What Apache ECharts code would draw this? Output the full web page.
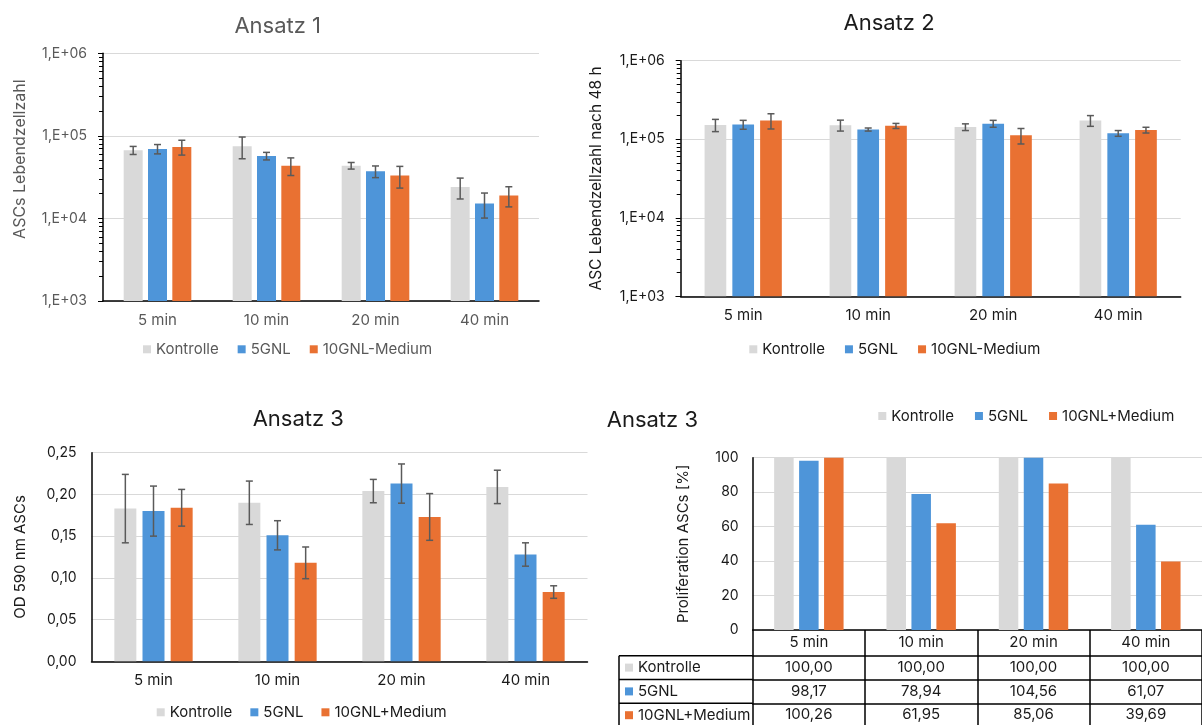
<!DOCTYPE html>
<html>
<head>
<meta charset="utf-8">
<script src="https://cdn.jsdelivr.net/npm/echarts@6/dist/echarts.min.js"></script>
<style>
  html, body { margin: 0; padding: 0; background: #fff; }
  #chart { width: 1202px; height: 725px; }
</style>
</head>
<body>
<div id="chart"></div>
<script>
const categories = ['5 min', '10 min', '20 min', '40 min']
const namesA = ['Kontrolle', '5GNL', '10GNL-Medium']
const namesB = ['Kontrolle', '5GNL', '10GNL+Medium']
const colors = ['#D9D9D9', '#4E95D9', '#E97132']

// Ansatz 1: ASCs Lebendzellzahl (log)
const a1Kontrolle = [67000, 74800, 43600, 24000]
const a1Gnl5 = [69500, 57100, 37200, 15200]
const a1Gnl10 = [73500, 43600, 33000, 19000]
const a1KontrolleErr = [7500, 22000, 4000, 6800]
const a1Gnl5Err = [9000, 6000, 6000, 5100]
const a1Gnl10Err = [15000, 10500, 9700, 5200]

// Ansatz 2: ASC Lebendzellzahl nach 48 h (log)
const a2Kontrolle = [152000, 151000, 143000, 173000]
const a2Gnl5 = [154000, 133000, 158000, 119000]
const a2Gnl10 = [173000, 148000, 112000, 131000]
const a2KontrolleErr = [27000, 24000, 14000, 27000]
const a2Gnl5Err = [20000, 6000, 16000, 10000]
const a2Gnl10Err = [38000, 11000, 25000, 11000]

// Ansatz 3: OD 590 nm
const a3Kontrolle = [0.183, 0.190, 0.204, 0.209]
const a3Gnl5 = [0.180, 0.151, 0.213, 0.128]
const a3Gnl10 = [0.184, 0.118, 0.173, 0.083]
const a3KontrolleErr = [0.041, 0.026, 0.014, 0.020]
const a3Gnl5Err = [0.030, 0.0175, 0.0235, 0.014]
const a3Gnl10Err = [0.022, 0.019, 0.028, 0.0075]

// Ansatz 3: Proliferation [%]
const prolKontrolle = [100.00, 100.00, 100.00, 100.00]
const prolGnl5 = [98.17, 78.94, 104.56, 61.07]
const prolGnl10 = [100.26, 61.95, 85.06, 39.69]

const logTicks = [1000, 1000000]
const odTicks = [0, 0.25, 0.05]
const prolTicks = [0, 100, 20]

const FONT = 'Inter'
const GRAY = '#595959'
const DARK = '#1a1a1a'
const GRID_LINE = '#D9D9D9'
const TXT = 15

const fmtComma = (v, d) => v.toFixed(d).replace('.', ',')
const fmtExp = v => '1,E+0' + Math.round(Math.log10(v))

function barSeries(gi, names, rows, barWidth) {
  return rows.map((vals, i) => ({
    type: 'bar',
    name: names[i],
    xAxisIndex: gi,
    yAxisIndex: gi,
    data: vals,
    barWidth,
    barGap: '28%',
    itemStyle: { color: colors[i] },
    emphasis: { disabled: true },
  }))
}

function errorSeries(gi, rows, errs, barWidth) {
  const data = []
  rows.forEach((vals, s) => vals.forEach((v, c) => data.push([c, v, errs[s][c], s])))
  const step = barWidth * 1.28
  return {
    type: 'custom',
    xAxisIndex: gi,
    yAxisIndex: gi,
    z: 5,
    data,
    renderItem(params, api) {
      const c = api.value(0)
      const v = api.value(1)
      const e = api.value(2)
      const s = api.value(3)
      const hi = api.coord([c, v + e])
      const lo = api.coord([c, v - e])
      const x = hi[0] + (s - 1) * step
      const style = { stroke: '#5a5a5a', lineWidth: 1.5 }
      return {
        type: 'group',
        children: [
          { type: 'line', shape: { x1: x, y1: hi[1], x2: x, y2: lo[1] }, style },
          { type: 'line', shape: { x1: x - 3.5, y1: hi[1], x2: x + 3.5, y2: hi[1] }, style },
          { type: 'line', shape: { x1: x - 3.5, y1: lo[1], x2: x + 3.5, y2: lo[1] }, style },
        ],
      }
    },
  }
}

function catAxis(gi, color, extra) {
  return Object.assign({
    type: 'category',
    gridIndex: gi,
    data: categories,
    axisLine: { lineStyle: { color: '#000', width: 1.5 } },
    axisTick: { show: false },
    axisLabel: { color, fontSize: TXT, fontFamily: FONT, margin: 12, interval: 0 },
  }, extra || {})
}

function logAxis(gi, color, name, nameGap, nameSize, namePad) {
  return {
    type: 'log',
    logBase: 10,
    gridIndex: gi,
    min: logTicks[0],
    max: logTicks[1],
    name,
    nameLocation: 'middle',
    nameGap,
    nameTextStyle: { color, fontSize: nameSize, fontFamily: FONT, padding: namePad },
    axisLine: { show: true, lineStyle: { color: '#000', width: 1.5 } },
    axisTick: { show: true, length: 5, lineStyle: { color: '#000' } },
    minorTick: { show: true, splitNumber: 9, length: 4, lineStyle: { color: '#000' } },
    splitLine: { lineStyle: { color: GRID_LINE, width: 1.2 } },
    axisLabel: { color, fontSize: 14, fontFamily: FONT, margin: 16, formatter: fmtExp },
  }
}

function legend(names, left, top, gap, color) {
  return {
    data: names,
    left,
    top,
    padding: 0,
    icon: 'rect',
    itemWidth: 8,
    itemHeight: 8,
    itemGap: gap,
    selectedMode: false,
    textStyle: { color, fontSize: TXT, fontFamily: FONT },
  }
}

function title(text, left, top, align, color) {
  return {
    text,
    left,
    top,
    textAlign: align,
    padding: 0,
    textStyle: { color, fontSize: 22, fontWeight: 'normal', fontFamily: FONT, lineHeight: 22 },
  }
}

const grids = [
  { left: 103, top: 53.3, width: 436, height: 247.7 },
  { left: 680.7, top: 60.7, width: 500, height: 235.6 },
  { left: 91.5, top: 452.7, width: 496, height: 208.6 },
  { left: 752.7, top: 457.7, width: 450.6, height: 172.3 },
]

// table under the proliferation chart
const tableRows = [prolKontrolle, prolGnl5, prolGnl10]
const headerH = 25.7
const rowH = 23.8
const tableTop = grids[3].top + grids[3].height
const tableLeft = 619

const rowAxes = tableRows.map((vals, r) => ({
  type: 'category',
  gridIndex: 3,
  position: 'bottom',
  offset: headerH + r * rowH,
  data: categories,
  axisLine: { lineStyle: { color: '#000', width: 1.5 } },
  axisTick: { show: false },
  axisLabel: {
    color: DARK, fontSize: TXT, fontFamily: FONT, margin: 4, interval: 0,
    formatter: (v, i) => fmtComma(vals[i], 2),
  },
}))

const tableGraphic = [
  { type: 'line', shape: { x1: tableLeft, y1: tableTop + headerH, x2: tableLeft, y2: 740 },
    style: { stroke: '#000', lineWidth: 1.5 } },
]
namesB.forEach((n, r) => {
  const y = tableTop + headerH + r * rowH
  tableGraphic.push(
    { type: 'line', shape: { x1: tableLeft, y1: y, x2: grids[3].left, y2: y },
      style: { stroke: '#000', lineWidth: 1.5 } },
    { type: 'rect', shape: { x: tableLeft + 6, y: y + rowH / 2 - 4, width: 8, height: 8 },
      style: { fill: colors[r] } },
    { type: 'text', x: tableLeft + 19, y: y + rowH / 2,
      style: { text: n, fill: DARK, font: TXT + 'px ' + FONT, verticalAlign: 'middle' } },
  )
})

const chart = echarts.init(document.getElementById('chart'))
chart.setOption({
  animation: false,
  backgroundColor: '#fff',
  title: [
    title('Ansatz 1', 277.7, 15.7, 'center', GRAY),
    title('Ansatz 2', 889, 12.3, 'center', DARK),
    title('Ansatz 3', 298.3, 408.3, 'center', DARK),
    title('Ansatz 3', 606.7, 409.7, 'left', DARK),
  ],
  legend: [
    legend(namesA, 143, 341.8, 19, GRAY),
    legend(namesA, 749.3, 341.8, 20, DARK),
    legend(namesB, 156.7, 704.8, 18, DARK),
    legend(namesB, 878.3, 408.5, 21, DARK),
  ],
  grid: grids,
  xAxis: [
    catAxis(0, GRAY),
    catAxis(1, DARK),
    catAxis(2, DARK),
    catAxis(3, DARK, {
      axisTick: { show: true, interval: 0, length: 110, lineStyle: { color: '#000', width: 1.5 } },
      axisLabel: { color: DARK, fontSize: TXT, fontFamily: FONT, margin: 5, interval: 0 },
    }),
    ...rowAxes,
  ],
  yAxis: [
    logAxis(0, GRAY, 'ASCs Lebendzellzahl', 75, 16, [0, 0, 0, 36]),
    logAxis(1, DARK, 'ASC Lebendzellzahl nach 48 h', 76, 15.5, 0),
    {
      type: 'value',
      gridIndex: 2,
      min: odTicks[0],
      max: odTicks[1],
      interval: odTicks[2],
      name: 'OD 590 nm ASCs',
      nameLocation: 'middle',
      nameGap: 64,
      nameTextStyle: { color: DARK, fontSize: 15, fontFamily: FONT },
      axisLine: { show: true, lineStyle: { color: '#000', width: 1.5 } },
      axisTick: { show: false },
      splitLine: { lineStyle: { color: GRID_LINE, width: 1.2 } },
      axisLabel: { color: DARK, fontSize: 14, fontFamily: FONT, margin: 15, formatter: v => fmtComma(v, 2) },
    },
    {
      type: 'value',
      gridIndex: 3,
      min: prolTicks[0],
      max: prolTicks[1],
      interval: prolTicks[2],
      name: 'Proliferation ASCs [%]',
      nameLocation: 'middle',
      nameGap: 61.5,
      nameTextStyle: { color: DARK, fontSize: 15, fontFamily: FONT },
      axisLine: { show: true, lineStyle: { color: '#000', width: 1.5 } },
      axisTick: { show: false },
      splitLine: { lineStyle: { color: GRID_LINE, width: 1.2 } },
      axisLabel: { color: DARK, fontSize: 14, fontFamily: FONT, margin: 14 },
    },
  ],
  graphic: tableGraphic,
  series: [
    ...barSeries(0, namesA, [a1Kontrolle, a1Gnl5, a1Gnl10], 19),
    errorSeries(0, [a1Kontrolle, a1Gnl5, a1Gnl10], [a1KontrolleErr, a1Gnl5Err, a1Gnl10Err], 19),
    ...barSeries(1, namesA, [a2Kontrolle, a2Gnl5, a2Gnl10], 21.7),
    errorSeries(1, [a2Kontrolle, a2Gnl5, a2Gnl10], [a2KontrolleErr, a2Gnl5Err, a2Gnl10Err], 21.7),
    ...barSeries(2, namesB, [a3Kontrolle, a3Gnl5, a3Gnl10], 22),
    errorSeries(2, [a3Kontrolle, a3Gnl5, a3Gnl10], [a3KontrolleErr, a3Gnl5Err, a3Gnl10Err], 22),
    ...barSeries(3, namesB, [prolKontrolle, prolGnl5, prolGnl10], 19.5),
  ],
})
</script>
</body>
</html>
